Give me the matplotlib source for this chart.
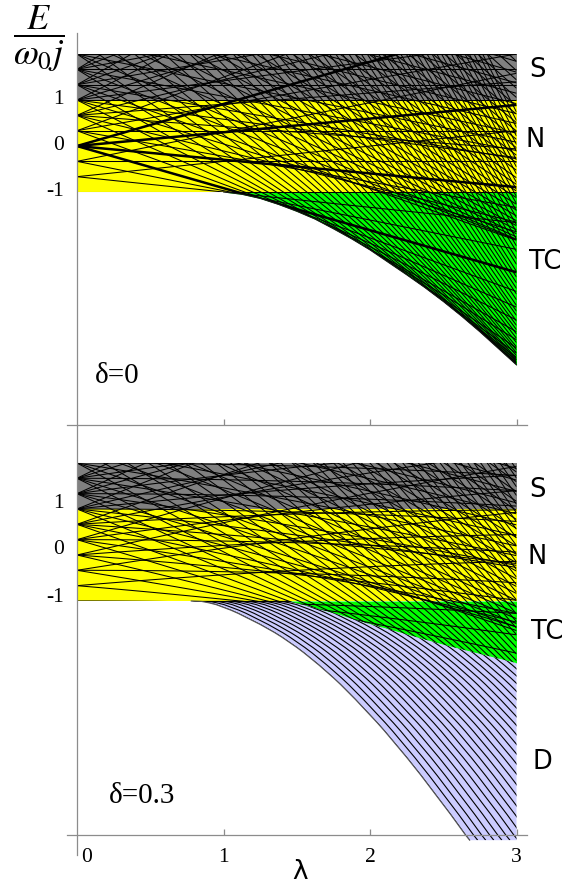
import numpy as np
import matplotlib
matplotlib.use("Agg")
import matplotlib.pyplot as plt
from matplotlib.collections import LineCollection
from matplotlib.patches import Polygon

plt.rcParams['mathtext.fontset'] = 'stix'

# ---------------- data ----------------
# energy levels E/(w0 j) at lambda = 0 (fan origins; the higher ones lie above the frame)
levels = [-1.0, -0.667, -0.333, 0.0, 0.333, 0.667, 1.0, 1.333, 1.667, 2.0,
          2.333, 2.667, 3.0, 3.333, 3.667, 4.0, 4.333, 4.667, 5.0, 5.333,
          5.667, 6.0, 6.333, 6.667, 7.0, 7.333, 7.667, 8.0, 8.333, 8.667,
          9.0, 9.333, 9.667, 10.0, 10.333, 10.667, 11.0, 11.333, 11.667, 12.0,
          12.333, 12.667, 13.0, 13.333, 13.667, 14.0, 14.333, 14.667, 15.0, 15.333,
          15.667, 16.0, 16.333, 16.667, 17.0, 17.333, 17.667, 18.0, 18.333, 18.667,
          19.0, 19.333, 19.667]
# slopes dE/dlambda of the fans leaving the lowest levels
fan_slopes_low = [
    [0.0],
    [-0.333, 0.333],
    [-0.638, 0.0, 0.638],
    [-0.915, -0.298, 0.298, 0.915],
    [-1.165, -0.556, 0.0, 0.556, 1.165],
    [-1.39, -0.774, -0.243, 0.243, 0.774, 1.39],
    [-1.594, -0.955, -0.417, 0.0, 0.417, 0.955, 1.594],
]
# outermost slope of the fans of the higher levels (level index 7 ... 62)
fan_outer = [1.79, 1.96, 2.13, 2.28, 2.42, 2.55, 2.68, 2.80, 2.92, 3.03,
             3.14, 3.24, 3.34, 3.44, 3.54, 3.63, 3.72, 3.81, 3.90, 3.98,
             4.06, 4.14, 4.22, 4.30, 4.38, 4.45, 4.53, 4.60, 4.67, 4.74,
             4.81, 4.88, 4.95, 5.02, 5.08, 5.15, 5.21, 5.28, 5.34, 5.40,
             5.46, 5.52, 5.58, 5.64, 5.70, 5.76, 5.82, 5.87, 5.93, 5.99,
             6.04, 6.10, 6.15, 6.20, 6.26, 6.31]
fan_shape = [-1.0, -0.63, -0.3, 0.0, 0.3, 0.63, 1.0]
thick_level = 3  # fan drawn with heavier lines in the delta=0 panel

# delta = 0.3 panel: fan slope scale and bending
bottom_slope_scale = 0.8
bottom_bend = -0.03

# region boundaries
band_S = [1.0, 2.0]
band_N = [-1.0, 1.0]
tc_lam_top = [1.0, 1.125, 1.25, 1.375, 1.5, 1.625, 1.75, 1.875, 2.0, 2.125, 2.25,
              2.375, 2.5, 2.625, 2.75, 2.875, 3.0]
tc_E_top = [-1.0, -1.05, -1.14, -1.27, -1.42, -1.59, -1.8, -2.02, -2.26, -2.53,
            -2.8, -3.08, -3.38, -3.7, -4.04, -4.4, -4.76]

tc_lam_bot = [1.43, 1.5, 1.6, 1.7, 1.8, 1.9, 2.0, 2.1, 2.2, 2.3, 2.4, 2.5, 2.6,
              2.7, 2.8, 2.9, 3.0]
tc_E_bot = [-1.0, -1.05, -1.13, -1.22, -1.31, -1.41, -1.5, -1.59, -1.68, -1.77,
            -1.86, -1.95, -2.03, -2.11, -2.19, -2.27, -2.35]

d_lam = [0.0, 0.78, 0.85, 0.9, 0.95, 1.0, 1.05, 1.1, 1.15, 1.2, 1.25, 1.3, 1.35,
         1.4, 1.45, 1.5, 1.55, 1.6, 1.65, 1.7, 1.75, 1.8, 1.85, 1.9, 1.95, 2.0,
         2.05, 2.1, 2.15, 2.2, 2.25, 2.3, 2.35, 2.4, 2.45, 2.5, 2.55, 2.6, 2.65, 2.68]
d_E = [-1.0, -1.0, -1.01, -1.04, -1.08, -1.14, -1.2, -1.27, -1.35, -1.43, -1.51,
       -1.6, -1.69, -1.79, -1.9, -2.01, -2.13, -2.26, -2.39, -2.53, -2.67, -2.82,
       -2.98, -3.14, -3.31, -3.48, -3.65, -3.83, -4.02, -4.21, -4.4, -4.6, -4.8,
       -5.01, -5.22, -5.43, -5.64, -5.86, -6.08, -6.2]
d_floor = -6.2
# shifts (in lambda) of the superradiant levels relative to the lower edge
d_shift = [0.0, 0.055, 0.11, 0.165, 0.22, 0.275, 0.33, 0.385, 0.44, 0.495,
           0.55, 0.605, 0.66, 0.715, 0.77, 0.825, 0.88, 0.935, 0.99, 1.045,
           1.1, 1.155, 1.21, 1.265, 1.32, 1.375]

col_S = '#808080'
col_N = '#ffff00'
col_TC = '#00ff00'
col_D = '#ccccff'

x_ticks = [1, 2, 3]
y_ticks = [1, 0, -1]

# ---------------- figure ----------------
W, H = 566, 886
fig = plt.figure(figsize=(W / 100, H / 100), dpi=100)

x0px, xscale = 77.0, 146.5
xlim = (-0.07, 3.07)
ax_left = (x0px + xlim[0] * xscale) / W
ax_w = (xlim[1] - xlim[0]) * xscale / W

ax1 = fig.add_axes([ax_left, 1 - 440 / H, ax_w, 407 / H])
ax2 = fig.add_axes([ax_left, 1 - 855 / H, ax_w, 414 / H])
ax1.set_ylim(-6.391, 2.457)
ax2.set_ylim(-6.522, 2.478)
axis_y = {ax1: -6.065, ax2: -6.087}

lam = np.linspace(0, 3, 61)


def fan_lines(scale, bend):
    segs = []
    for i, e0 in enumerate(levels):
        if i < len(fan_slopes_low):
            slopes = fan_slopes_low[i]
        else:
            slopes = [fan_outer[i - len(fan_slopes_low)] * m for m in fan_shape]
        for s in slopes:
            segs.append(np.column_stack([lam, e0 + scale * s * lam + bend * lam ** 2]))
    return segs


def add_clip(ax, verts):
    p = Polygon(verts, closed=True, facecolor='none', edgecolor='none',
                transform=ax.transData)
    ax.add_patch(p)
    return p


for ax in (ax1, ax2):
    ax.set_xlim(*xlim)
    for sp in ('top', 'right'):
        ax.spines[sp].set_visible(False)
    ax.spines['left'].set_position(('data', 0))
    ax.spines['bottom'].set_position(('data', axis_y[ax]))
    for sp in ('left', 'bottom'):
        ax.spines[sp].set_color('#8c8c8c')
        ax.spines[sp].set_linewidth(0.9)
        ax.spines[sp].set_zorder(5)
    ax.set_xticks(x_ticks)
    ax.set_xticklabels([])
    ax.set_yticks([])
    ax.tick_params(axis='x', direction='in', length=4, width=0.9, color='#8c8c8c')
    # bands S and N
    ax.fill_between([0, 3], band_S[0], band_S[1], color=col_S, lw=0, zorder=1)
    ax.fill_between([0, 3], band_N[0], band_N[1], color=col_N, lw=0, zorder=1)

LW = 0.75

# ---- top panel (delta = 0) ----
ax1.fill_between(tc_lam_top, tc_E_top, -1.0, color=col_TC, lw=0, zorder=1)
clip1 = add_clip(ax1, [(0, 2), (3, 2)] + list(zip(tc_lam_top[::-1], tc_E_top[::-1])) + [(0, -1)])
lc = LineCollection(fan_lines(1.0, 0.0), colors='black', linewidths=LW, zorder=2)
lc.set_clip_path(clip1)
ax1.add_collection(lc)
thick = [np.column_stack([lam, levels[thick_level] + s * lam]) for s in fan_slopes_low[thick_level]]
lct = LineCollection(thick, colors='black', linewidths=1.8, zorder=2)
lct.set_clip_path(clip1)
ax1.add_collection(lct)
ax1.plot(tc_lam_top, tc_E_top, color='#1a1a1a', lw=0.7, zorder=2)

# ---- bottom panel (delta = 0.3) ----
ax2.fill_between(tc_lam_bot, tc_E_bot, -1.0, color=col_TC, lw=0, zorder=1)
d_poly = ([(d_lam[1], -1.0), (tc_lam_bot[0], -1.0)] + list(zip(tc_lam_bot, tc_E_bot))
          + [(3.0, d_floor)] + list(zip(d_lam[::-1], d_E[::-1]))[:-2])
ax2.add_patch(Polygon(d_poly, closed=True, facecolor=col_D, edgecolor='none', zorder=1))
clip2 = add_clip(ax2, [(0, 2), (3, 2)] + list(zip(tc_lam_bot[::-1], tc_E_bot[::-1])) + [(0, -1)])
lc2 = LineCollection(fan_lines(bottom_slope_scale, bottom_bend), colors='black',
                     linewidths=LW, zorder=2)
lc2.set_clip_path(clip2)
ax2.add_collection(lc2)
clipD = add_clip(ax2, d_poly)
dsegs = [np.column_stack([np.array(d_lam) + a, d_E]) for a in d_shift]
lcd = LineCollection(dsegs, colors='black', linewidths=0.8, zorder=2)
lcd.set_clip_path(clipD)
ax2.add_collection(lcd)
ax2.plot(d_lam[1:], d_E[1:], color='#555555', lw=0.8, zorder=2)

# ---------------- text ----------------
def ftext(xp, yp, s, **kw):
    fig.text(xp / W, 1 - yp / H, s, **kw)

serif = ['Liberation Serif', 'DejaVu Serif']
for val, yp in zip(y_ticks, [100, 146, 192]):
    ftext(64, yp, str(val), ha='right', va='center', fontsize=15.5, family=serif)
for val, yp in zip(y_ticks, [503, 549, 597]):
    ftext(64, yp, str(val), ha='right', va='center', fontsize=15.5, family=serif)
ftext(87, 857, '0', ha='center', va='center', fontsize=15.5, family=serif)
for val in x_ticks:
    ftext(x0px + val * xscale, 857, str(val), ha='center', va='center', fontsize=15.5, family=serif)

ftext(117, 376, 'δ=0', ha='center', va='center', fontsize=21, family=serif)
ftext(142, 796, 'δ=0.3', ha='center', va='center', fontsize=21, family=serif)

sans = ['DejaVu Sans']
for s, xp, yp in [('S', 537, 70), ('N', 535, 140), ('TC', 545, 262),
                  ('S', 537, 490), ('N', 537, 557), ('TC', 547, 632), ('D', 542, 762)]:
    ftext(xp, yp, s, ha='center', va='center', fontsize=18.5, family=sans)

ftext(39, 39, r'$\dfrac{E}{\omega_{\mathit{0}}j}$', ha='center', va='center', fontsize=26)
ftext(300, 885, 'λ', ha='center', va='bottom', fontsize=19, family=sans)

fig.savefig('out.png', dpi=100)
